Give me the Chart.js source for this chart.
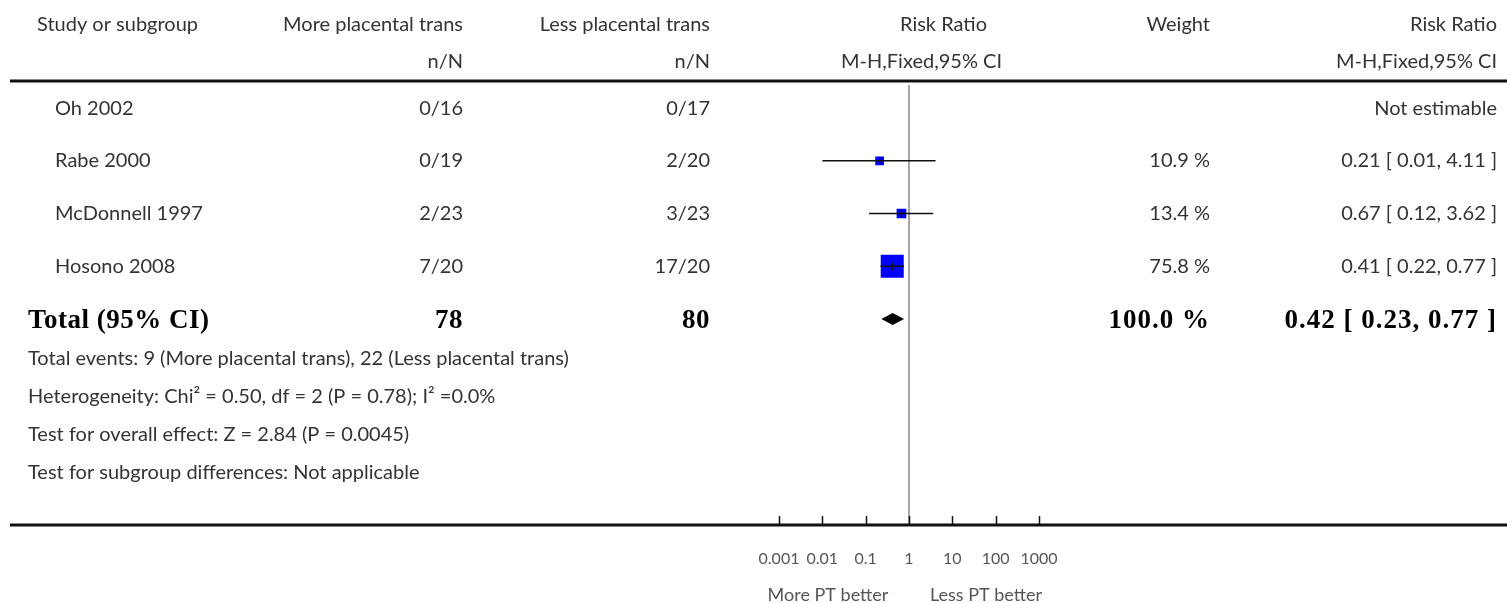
<!DOCTYPE html>
<html>
<head>
<meta charset="utf-8">
<script src="https://cdn.jsdelivr.net/npm/chart.js@4/dist/chart.umd.min.js"></script>
<style>
  body { margin: 0; background: #fff; }
  #wrap { width: 1507px; height: 603px; position: relative; }
</style>
</head>
<body>
<div id="wrap"><canvas id="forest"></canvas></div>
<script>
// study rows
const studies = ['Oh 2002', 'Rabe 2000', 'McDonnell 1997', 'Hosono 2008'];
const moreEvents = [0, 0, 2, 7];
const moreTotal = [16, 19, 23, 20];
const lessEvents = [0, 2, 3, 17];
const lessTotal = [17, 20, 23, 20];
const riskRatio = [null, 0.21, 0.67, 0.41];
const ciLow = [null, 0.01, 0.12, 0.22];
const ciHigh = [null, 4.11, 3.62, 0.77];
const weights = [null, 10.9, 13.4, 75.8];

// pooled
const totalMore = 78;
const totalLess = 80;
const totalWeight = 100.0;
const totalRR = 0.42;
const totalLow = 0.23;
const totalHigh = 0.77;

const tickValues = [0.001, 0.01, 0.1, 1, 10, 100, 1000];
const tickLabels = ['0.001', '0.01', '0.1', '1', '10', '100', '1000'];

const footLines = [
  'Total events: 9 (More placental trans), 22 (Less placental trans)',
  'Heterogeneity: Chi² = 0.50, df = 2 (P = 0.78); I² =0.0%',
  'Test for overall effect: Z = 2.84 (P = 0.0045)',
  'Test for subgroup differences: Not applicable'
];

const SANS = 'Lato, "Open Sans", sans-serif';
const SERIF = '"Liberation Serif", "DejaVu Serif", serif';
const fmt = v => v.toFixed(2);

const totalRow = studies.length + 1;

// datasets
const datasets = [];
studies.forEach((s, i) => {
  if (riskRatio[i] == null) return;
  datasets.push({
    type: 'line',
    data: [{x: ciLow[i], y: i + 1}, {x: ciHigh[i], y: i + 1}],
    borderColor: '#111',
    borderWidth: 1.5,
    pointRadius: 0,
    order: 0
  });
});
const estPoints = studies.map((s, i) => riskRatio[i] == null ? null : {x: riskRatio[i], y: i + 1}).filter(d => d);
datasets.push({
  type: 'scatter',
  data: estPoints,
  pointStyle: 'line',
  rotation: 90,
  pointRadius: 4,
  borderColor: '#111',
  borderWidth: 1.5,
  order: 0
});
datasets.push({
  type: 'scatter',
  data: estPoints,
  pointStyle: 'rect',
  pointRadius: weights.filter(w => w != null).map(w => 1.87 * Math.sqrt(w)),
  backgroundColor: '#0000ff',
  borderColor: '#0000ff',
  borderWidth: 0,
  order: 1
});

const AXIS_Y = 525;

const forestPlugin = {
  id: 'forest',
  beforeDatasetsDraw(chart) {
    const ctx = chart.ctx;
    const x = chart.scales.x;
    ctx.save();
    // line of no effect
    ctx.strokeStyle = '#8a8a8a';
    ctx.lineWidth = 1.5;
    ctx.beginPath();
    ctx.moveTo(x.getPixelForValue(1), chart.chartArea.top);
    ctx.lineTo(x.getPixelForValue(1), AXIS_Y);
    ctx.stroke();
    // tick marks on axis
    ctx.strokeStyle = '#111';
    tickValues.forEach(v => {
      const px = Math.round(x.getPixelForValue(v)) + 0.5;
      ctx.beginPath();
      ctx.moveTo(px, AXIS_Y);
      ctx.lineTo(px, AXIS_Y - 9);
      ctx.stroke();
    });
    // rules
    ctx.lineWidth = 3;
    ctx.strokeStyle = '#111';
    [81, AXIS_Y].forEach(yy => {
      ctx.beginPath();
      ctx.moveTo(10, yy);
      ctx.lineTo(1507, yy);
      ctx.stroke();
    });
    ctx.restore();
  },
  afterDatasetsDraw(chart) {
    const ctx = chart.ctx;
    const x = chart.scales.x, y = chart.scales.y;
    const cy = y.getPixelForValue(totalRow);
    ctx.save();
    ctx.fillStyle = '#000';
    ctx.beginPath();
    ctx.moveTo(x.getPixelForValue(totalLow), cy);
    ctx.lineTo(x.getPixelForValue(totalRR), cy - 6);
    ctx.lineTo(x.getPixelForValue(totalHigh), cy);
    ctx.lineTo(x.getPixelForValue(totalRR), cy + 6);
    ctx.closePath();
    ctx.fill();
    ctx.restore();
  },
  afterDraw(chart) {
    const ctx = chart.ctx;
    const y = chart.scales.y;
    ctx.save();
    ctx.textBaseline = 'middle';
    const txt = (s, px, py, align, font, color, spacing) => {
      ctx.font = font;
      ctx.fillStyle = color || '#333';
      ctx.textAlign = align;
      ctx.letterSpacing = spacing || '0px';
      ctx.fillText(s, px, py);
    };
    const F = '20px ' + SANS;
    const B = 'bold 27px ' + SERIF;

    // header
    txt('Study or subgroup', 37, 25, 'left', F);
    txt('More placental trans', 463, 25, 'right', F);
    txt('Less placental trans', 710, 25, 'right', F);
    txt('Risk Ratio', 987, 25, 'right', F);
    txt('Weight', 1210, 25, 'right', F);
    txt('Risk Ratio', 1497, 25, 'right', F);
    txt('n/N', 463, 62, 'right', F);
    txt('n/N', 710, 62, 'right', F);
    txt('M-H,Fixed,95% CI', 1002, 62, 'right', F);
    txt('M-H,Fixed,95% CI', 1497, 62, 'right', F);

    // study rows
    studies.forEach((s, i) => {
      const py = y.getPixelForValue(i + 1);
      txt(s, 55, py, 'left', F);
      txt(moreEvents[i] + '/' + moreTotal[i], 463, py, 'right', F);
      txt(lessEvents[i] + '/' + lessTotal[i], 710, py, 'right', F);
      if (riskRatio[i] == null) {
        txt('Not estimable', 1497, py, 'right', F);
      } else {
        txt(weights[i].toFixed(1) + ' %', 1210, py, 'right', F);
        txt(fmt(riskRatio[i]) + ' [ ' + fmt(ciLow[i]) + ', ' + fmt(ciHigh[i]) + ' ]', 1497, py, 'right', F);
      }
    });

    // total row
    const ty = y.getPixelForValue(totalRow) + 2;
    txt('Total (95% CI)', 28, ty, 'left', B, '#000', '0.5px');
    txt(String(totalMore), 463, ty, 'right', B, '#000', '0.5px');
    txt(String(totalLess), 710, ty, 'right', B, '#000', '0.5px');
    txt(totalWeight.toFixed(1) + ' %', 1210, ty, 'right', B, '#000', '1px');
    txt(fmt(totalRR) + ' [ ' + fmt(totalLow) + ', ' + fmt(totalHigh) + ' ]', 1497, ty, 'right', B, '#000', '1px');

    // footnotes
    footLines.forEach((s, i) => txt(s, 28, 359 + i * 37.7, 'left', F));

    // favours labels
    txt('More PT better', 828, 595, 'center', '18px ' + SANS, '#555');
    txt('Less PT better', 986, 595, 'center', '18px ' + SANS, '#555');
    ctx.restore();
  }
};

new Chart(document.getElementById('forest'), {
  data: { datasets: datasets },
  plugins: [forestPlugin],
  options: {
    responsive: true,
    maintainAspectRatio: false,
    animation: false,
    layout: { padding: { left: 779, right: 468, top: 85, bottom: 13 } },
    plugins: { legend: { display: false }, tooltip: { enabled: false } },
    scales: {
      x: {
        type: 'logarithmic',
        min: 0.001,
        max: 1000,
        afterBuildTicks: axis => { axis.ticks = tickValues.map(v => ({ value: v })); },
        ticks: {
          autoSkip: false,
          maxRotation: 0,
          padding: 22,
          color: '#555',
          font: { family: SANS, size: 16 },
          callback: (v) => tickLabels[tickValues.indexOf(v)] ?? ''
        },
        grid: { display: false, drawTicks: false },
        border: { display: false }
      },
      y: {
        type: 'linear',
        display: false,
        reverse: true,
        min: 0.562,
        max: 8.943
      }
    }
  }
});
</script>
</body>
</html>
